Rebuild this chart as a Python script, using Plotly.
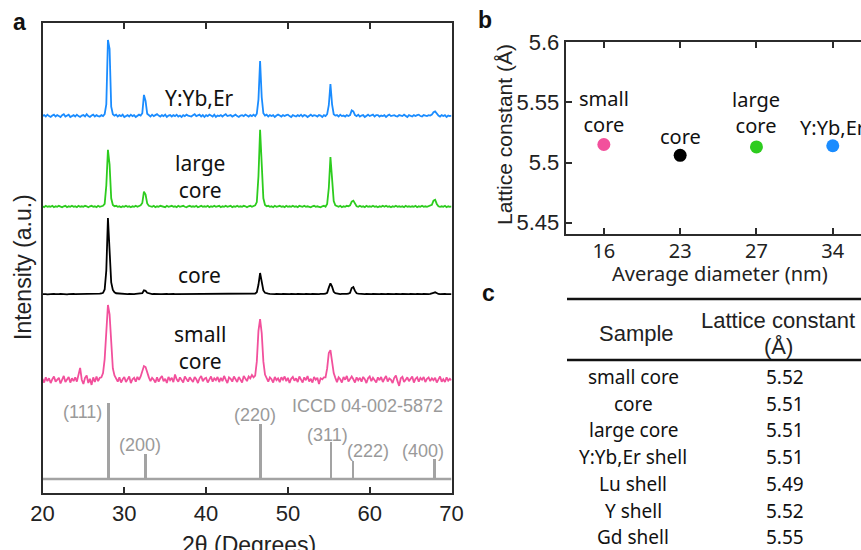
import plotly.graph_objects as go

# ---------------- data ----------------
# panel a: XRD patterns sampled every 0.2 degree from 20 to 70 (a.u., relative to each baseline)
two_theta = [round(20 + 0.2 * i, 1) for i in range(251)]

xrd_yyber = [
    0.0, 0.2, -0.1, 0.3, 0.0, -0.2, 0.1, 0.3, -0.1, 0.2,
    0.0, -0.2, 0.2, 0.4, -0.1, 0.1, 0.3, -0.2, 0.0, 0.2,
    -0.1, 0.3, 0.0, -0.2, 0.1, 0.2, -0.1, 0.4, 0.0, -0.2,
    0.1, 0.3, -0.1, 0.2, 0.0, -0.1, 0.2, 0.0, 0.4, 2.5,
    16.2, 14.3, 2.0, 0.4, 0.1, 0.3, -0.1, 0.2, 0.0, 0.3,
    -0.2, 0.1, 0.2, -0.1, 0.3, 0.0, 0.2, -0.2, 0.1, 0.3,
    0.1, 0.6, 4.5, 3.2, 0.5, 0.2, -0.1, 0.3, 0.0, 0.2,
    0.4, 0.1, -0.1, 0.2, 0.0, 0.3, -0.2, 0.1, 0.2, -0.1,
    0.2, 0.0, 0.3, -0.1, 0.1, -0.2, 0.2, 0.0, 0.3, 0.1,
    0.0, -0.1, 0.2, 0.4, 0.0, 0.1, 0.3, -0.1, 0.2, -0.2,
    0.2, 0.0, 0.3, 0.1, -0.1, 0.3, -0.2, 0.1, 0.0, 0.2,
    -0.1, 0.2, 0.4, 0.0, 0.1, 0.2, -0.1, 0.1, 0.3, 0.0,
    -0.2, 0.1, 0.2, 0.0, 0.3, 0.1, -0.1, 0.2, 0.0, 0.3,
    0.0, 0.5, 3.5, 11.7, 4.0, 0.6, 0.1, 0.3, -0.1, 0.2,
    0.0, 0.2, -0.2, 0.1, 0.3, 0.1, -0.1, 0.2, 0.0, 0.2,
    0.3, 0.0, -0.2, 0.2, 0.1, -0.1, 0.2, 0.0, 0.3, -0.1,
    0.2, 0.1, -0.2, 0.0, 0.3, 0.0, 0.2, 0.1, -0.1, 0.2,
    0.1, -0.2, 0.2, 0.0, 0.4, 2.3, 6.8, 2.5, 0.4, 0.1,
    0.2, -0.1, 0.3, 0.0, 0.1, -0.1, 0.2, 0.0, 0.2, 1.2,
    1.0, 0.2, 0.0, 0.3, -0.1, 0.1, 0.2, -0.2, 0.0, 0.3,
    0.0, 0.1, 0.3, -0.1, 0.2, 0.2, -0.1, 0.1, 0.0, 0.2,
    -0.2, 0.1, 0.3, 0.0, 0.1, 0.2, 0.0, -0.1, 0.2, 0.1,
    0.0, 0.3, 0.1, -0.2, 0.2, 0.1, -0.1, 0.2, 0.0, 0.2,
    0.3, 0.0, -0.1, 0.2, 0.1, 0.0, 0.2, 0.1, 0.3, 0.8,
    1.0, 0.5, 0.1, -0.1, 0.2, 0.0, 0.2, -0.2, 0.1, 0.0,
    0.1,
]

xrd_large_core = [
    0.1, -0.1, 0.2, 0.0, 0.1, 0.0, 0.2, -0.1, 0.1, 0.0,
    0.2, 0.0, -0.1, 0.1, 0.2, -0.1, 0.1, 0.0, 0.2, 0.0,
    0.1, -0.1, 0.2, 0.0, 0.1, 0.0, 0.2, 0.1, -0.1, 0.1,
    0.2, 0.0, 0.1, -0.1, 0.2, 0.0, 0.1, 0.2, 0.6, 4.5,
    12.1, 9.0, 1.8, 0.4, 0.1, 0.2, 0.0, 0.1, -0.1, 0.1,
    0.0, 0.2, 0.0, 0.1, -0.1, 0.1, 0.0, 0.2, 0.0, 0.2,
    0.3, 0.8, 3.2, 2.6, 0.7, 0.2, 0.1, 0.0, 0.2, -0.1,
    0.1, 0.0, 0.2, 0.1, 0.0, -0.1, 0.2, 0.0, 0.1, 0.2,
    0.0, 0.1, -0.1, 0.2, 0.0, 0.1, 0.2, 0.0, -0.1, 0.1,
    0.2, 0.0, 0.1, 0.0, 0.2, -0.1, 0.1, 0.2, 0.0, 0.1,
    0.0, 0.2, -0.1, 0.1, 0.0, 0.2, 0.0, 0.1, 0.2, -0.1,
    0.1, 0.0, 0.2, 0.0, 0.1, 0.2, -0.1, 0.1, 0.0, 0.2,
    0.0, 0.1, 0.0, 0.2, 0.1, -0.1, 0.1, 0.2, 0.0, 0.1,
    0.3, 1.0, 6.5, 16.4, 9.5, 1.8, 0.4, 0.1, 0.2, 0.0,
    0.1, -0.1, 0.2, 0.0, 0.1, 0.2, 0.0, 0.1, -0.1, 0.2,
    0.0, 0.1, 0.0, 0.2, 0.0, 0.1, -0.1, 0.2, 0.1, 0.0,
    0.2, 0.0, 0.1, 0.0, -0.1, 0.1, 0.2, 0.0, 0.1, 0.0,
    -0.1, 0.1, 0.2, 0.0, 0.6, 4.0, 10.6, 6.0, 1.2, 0.3,
    0.1, 0.0, 0.2, -0.1, 0.1, 0.0, 0.2, 0.1, 0.3, 1.1,
    1.3, 0.5, 0.1, 0.0, 0.2, 0.0, 0.1, -0.1, 0.2, 0.0,
    0.1, 0.0, 0.2, 0.0, 0.1, -0.1, 0.1, 0.0, 0.2, 0.0,
    0.2, 0.0, 0.1, -0.1, 0.1, 0.0, 0.2, 0.0, 0.1, 0.0,
    0.1, -0.1, 0.2, 0.0, 0.1, 0.0, 0.1, 0.0, 0.2, -0.1,
    0.1, 0.0, 0.2, 0.0, 0.1, 0.0, 0.1, 0.2, 0.4, 1.3,
    1.5, 0.6, 0.1, 0.0, 0.1, 0.0, 0.2, -0.1, 0.1, 0.0,
    0.1,
]

xrd_core = [
    0.0, 0.05, 0.0, -0.05, 0.0, 0.05, 0.0, 0.05, 0.0, -0.05,
    0.0, 0.05, 0.0, 0.05, 0.0, -0.05, 0.0, 0.05, 0.0, 0.05,
    0.0, 0.0, 0.05, -0.05, 0.0, 0.05, 0.0, 0.0, 0.05, 0.0,
    0.0, 0.05, 0.0, 0.05, 0.1, 0.1, 0.15, 0.3, 1.0, 5.0,
    16.2, 10.0, 2.5, 0.9, 0.4, 0.2, 0.15, 0.1, 0.05, 0.05,
    0.0, 0.05, 0.0, 0.05, 0.0, 0.05, 0.0, 0.05, 0.05, 0.1,
    0.1, 0.2, 0.8, 0.7, 0.3, 0.15, 0.05, 0.0, 0.05, 0.0,
    0.0, 0.05, 0.0, 0.0, 0.05, 0.0, 0.05, 0.0, 0.05, 0.0,
    0.05, 0.0, 0.0, 0.05, 0.0, 0.0, 0.05, 0.0, 0.0, 0.05,
    0.0, 0.05, 0.0, 0.05, 0.0, 0.05, 0.0, 0.05, 0.0, 0.0,
    0.05, 0.0, 0.0, 0.05, 0.0, 0.0, 0.05, 0.0, 0.05, 0.0,
    0.05, 0.0, 0.05, 0.0, 0.05, 0.0, 0.0, 0.05, 0.0, 0.05,
    0.0, 0.05, 0.0, 0.05, 0.0, 0.05, 0.0, 0.05, 0.1, 0.1,
    0.15, 0.4, 2.0, 4.5, 3.0, 0.8, 0.3, 0.15, 0.1, 0.05,
    0.0, 0.05, 0.0, 0.05, 0.0, 0.05, 0.0, 0.05, 0.0, 0.0,
    0.05, 0.0, 0.05, 0.0, 0.05, 0.0, 0.05, 0.0, 0.0, 0.05,
    0.0, 0.05, 0.0, 0.05, 0.0, 0.05, 0.0, 0.0, 0.05, 0.0,
    0.05, 0.0, 0.05, 0.1, 0.3, 1.4, 2.3, 1.6, 0.5, 0.2,
    0.1, 0.05, 0.0, 0.05, 0.0, 0.05, 0.05, 0.1, 0.3, 1.3,
    1.5, 0.7, 0.2, 0.1, 0.05, 0.0, 0.05, 0.0, 0.05, 0.0,
    0.05, 0.0, 0.05, 0.0, 0.0, 0.05, 0.0, 0.05, 0.0, 0.05,
    0.0, 0.05, 0.0, 0.0, 0.05, 0.0, 0.05, 0.0, 0.05, 0.0,
    0.05, 0.0, 0.0, 0.05, 0.0, 0.05, 0.0, 0.05, 0.0, 0.05,
    0.0, 0.05, 0.0, 0.05, 0.0, 0.05, 0.0, 0.05, 0.1, 0.3,
    0.4, 0.2, 0.05, 0.0, 0.05, 0.0, 0.05, 0.0, 0.05, 0.0,
    0.0,
]

xrd_small_core = [
    0.3, -0.5, 0.6, -0.2, 0.4, -0.6, 0.2, 0.8, -0.3, 0.1,
    0.5, -0.7, 0.3, 0.9, -0.4, 0.2, 0.7, -0.5, 0.4, -0.2,
    0.6, -0.3, 0.9, 2.6, 0.1, -0.8, 0.5, 1.0, -0.6, 0.3,
    -1.0, 0.6, -0.4, 0.8, -0.2, 0.5, 0.6, 1.5, 4.5, 11.0,
    16.0, 14.0, 7.0, 2.5, 1.0, 0.4, -0.3, 0.6, -0.5, 0.2,
    0.7, -0.4, 0.3, 0.8, -0.6, 0.2, 0.5, -0.3, 0.7, 0.1,
    0.8, 1.8, 3.0, 2.8, 1.5, 0.6, -0.2, 0.5, 0.1, -0.5,
    0.6, -0.3, 0.4, 0.9, -0.2, 0.3, -0.6, 0.7, 0.0, 0.5,
    -0.4, 1.2, 0.2, -0.3, 0.6, 0.1, -0.5, 0.8, 0.2, -0.3,
    0.6, 0.0, -0.4, 0.7, 0.2, -0.6, 0.4, 0.9, -0.2, 0.3,
    0.5, -0.5, 0.2, 0.8, -0.3, 0.4, 0.0, 0.7, -0.4, 0.5,
    -0.2, 0.9, 0.1, -0.6, 0.6, 0.3, -0.3, 0.8, 0.2, -0.4,
    0.7, 0.1, -0.5, 0.9, 0.3, -0.2, 0.8, 0.4, 1.1, 0.6,
    1.0, 4.0, 10.5, 13.0, 10.0, 4.0, 1.2, 0.5, -0.3, 0.6,
    0.2, -0.5, 0.7, 0.0, 0.4, -0.4, 0.6, 0.1, 0.8, -0.2,
    0.5, -0.6, 0.3, 0.7, -0.1, 0.4, -0.4, 0.8, 0.2, -0.5,
    0.6, 0.0, 0.9, -0.3, 0.3, -0.5, 0.7, 0.1, 0.5, -0.8,
    0.4, 0.2, 0.6, 0.6, 2.5, 5.8, 6.4, 4.0, 1.5, 0.5,
    -0.4, 0.6, 0.2, -0.5, 0.7, 0.1, 0.9, -0.3, 0.4, 0.8,
    0.2, -0.5, 0.6, 0.0, 0.5, -0.3, 0.7, 0.2, -0.6, 0.4,
    0.8, -0.2, 0.5, 0.1, -0.5, 0.6, 0.0, 0.7, -0.4, 0.3,
    0.9, -0.3, 0.4, 0.1, -0.6, 0.5, 1.0, -0.2, -1.2, 0.4,
    0.7, -0.4, 0.2, 0.6, -0.2, 0.4, 0.8, -0.5, 0.3, 0.6,
    -0.3, 0.5, 0.1, 0.7, -0.4, 0.3, 0.6, -0.2, 0.4, 0.0,
    0.5, -0.5, 0.3, 0.8, -0.3, 0.2, -0.4, 0.6, -0.1, 0.3,
    0.0,
]

# stacking baselines of the patterns (a.u.)
offset_yyber = 80.2
offset_large_core = 60.9
offset_core = 42.3
offset_small_core = 24.0
offset_ref = 3.0

# reference card ICCD 04-002-5872
ref_two_theta = [28.05, 32.5, 46.6, 55.2, 57.9, 67.9]
ref_intensity = [16.2, 5.3, 11.7, 7.9, 3.8, 4.3]
ref_hkl = ["(111)", "(200)", "(220)", "(311)", "(222)", "(400)"]
ref_label_x = [24.83, 31.92, 45.98, 54.78, 59.79, 66.52]
ref_label_y = [17.2, 10.2, 16.6, 12.3, 8.9, 8.9]

# panel b
diameters = ["16", "23", "27", "34"]
lattice_b = [5.515, 5.506, 5.513, 5.514]
labels_b = ["small<br>core", "core", "large<br>core", "Y:Yb,Er"]
label_shift_b = [33, 19, 34, 18]

# panel c
table_samples = ["small core", "core", "large core", "Y:Yb,Er shell",
                 "Lu shell", "Y shell", "Gd shell"]
table_values = ["5.52", "5.51", "5.51", "5.51", "5.49", "5.52", "5.55"]

# colours
c_blue = "#1a8cff"
c_green = "#2dcc1e"
c_black = "#000000"
c_pink = "#f2509c"
c_gray = "#a3a3a3"
c_axis = "#2b2b2b"

# ---------------- layout helpers ----------------
W, H = 861, 550
def px(x):
    return x / W
def py(y):
    return 1 - y / H

HELV = "Liberation Sans, Arial, sans-serif"
MYR = "Noto Sans, Open Sans, sans-serif"

fig = go.Figure()

# panel a traces
def add_pattern(vals, off, color, width=1.8):
    fig.add_trace(go.Scatter(
        x=two_theta, y=[v + off for v in vals], mode="lines",
        line=dict(color=color, width=width), xaxis="x", yaxis="y",
        hoverinfo="skip", showlegend=False))

fig.add_trace(go.Bar(
    x=ref_two_theta, y=ref_intensity, base=offset_ref, width=0.34,
    marker=dict(color=c_gray, line=dict(width=0)), xaxis="x", yaxis="y",
    showlegend=False, hoverinfo="skip"))
fig.add_trace(go.Scatter(
    x=[two_theta[0], two_theta[-1]], y=[offset_ref, offset_ref], mode="lines",
    line=dict(color=c_gray, width=2.5), xaxis="x", yaxis="y",
    showlegend=False, hoverinfo="skip"))

add_pattern(xrd_small_core, offset_small_core, c_pink, 1.8)
add_pattern(xrd_core, offset_core, c_black, 1.8)
add_pattern(xrd_large_core, offset_large_core, c_green, 1.8)
add_pattern(xrd_yyber, offset_yyber, c_blue, 1.8)

# panel b
cat_pos = list(range(len(diameters)))
fig.add_trace(go.Scatter(
    x=cat_pos, y=lattice_b, mode="markers",
    marker=dict(size=13, color=[c_pink, c_black, c_green, c_blue]),
    xaxis="x2", yaxis="y2", showlegend=False, hoverinfo="skip"))

annotations = []

def ann_px(text, x, y, family, size, color="#222", angle=0, xanchor="center", yanchor="middle"):
    annotations.append(dict(x=px(x), y=py(y), xref="paper", yref="paper", text=text,
                            showarrow=False, textangle=angle, xanchor=xanchor, yanchor=yanchor,
                            font=dict(family=family, size=size, color=color)))

# panel a labels
lab_x = 39.25
for txt, yv in [("Y:Yb,Er", offset_yyber + 3.8), ("large<br>core", offset_large_core + 6.4),
                ("core", offset_core + 4.1), ("small<br>core", offset_small_core + 7.0)]:
    annotations.append(dict(x=lab_x, y=yv, xref="x", yref="y", text=txt, showarrow=False,
                            xanchor="center", yanchor="middle",
                            font=dict(family=MYR, size=21, color="#111")))
for t, xv, yv in zip(ref_hkl, ref_label_x, ref_label_y):
    annotations.append(dict(x=xv, y=yv, xref="x", yref="y", text=t, showarrow=False,
                            xanchor="center", yanchor="middle",
                            font=dict(family=HELV, size=18, color="#9a9a9a")))
annotations.append(dict(x=69.2, y=18.5, xref="x", yref="y", text="ICCD 04-002-5872",
                        showarrow=False, xanchor="right", yanchor="middle",
                        font=dict(family=HELV, size=18, color="#9a9a9a")))

# panel a axis titles
ann_px("Intensity (a.u.)", 23, 267, HELV, 23, angle=-90)
ann_px("2θ (Degrees)", 249, 530, HELV, 23, yanchor="top")

# panel b labels
for d, v, t, s in zip(cat_pos, lattice_b, labels_b, label_shift_b):
    annotations.append(dict(x=d, y=v, xref="x2", yref="y2", text=t, showarrow=False,
                            xanchor="center", yanchor="middle",
                            yshift=s, font=dict(family=MYR, size=20, color="#111")))
ann_px("Lattice constant (Å)", 504, 134, HELV, 21, angle=-90)
ann_px("Average diameter (nm)", 720, 273, MYR, 20)

# panel letters
for t, x, y in [("a", 19, 22), ("b", 485, 20), ("c", 488, 293)]:
    ann_px("<b>%s</b>" % t, x, y, HELV, 23, color="#111")

# panel c table
ann_px("Sample", 636, 333, HELV, 22)
ann_px("Lattice constant", 778, 320, HELV, 22)
ann_px("(Å)", 778, 346, HELV, 22)
row0, row_dy = 377, 26.7
for i, (s, v) in enumerate(zip(table_samples, table_values)):
    yy = row0 + i * row_dy
    ann_px(s, 633, yy, MYR, 19, color="#111")
    ann_px(v, 785, yy, MYR, 19, color="#111")

shapes = [
    dict(type="line", xref="paper", yref="paper", x0=px(567), x1=1.0, y0=py(299), y1=py(299),
         line=dict(color="#111", width=2.5)),
    dict(type="line", xref="paper", yref="paper", x0=px(567), x1=1.0, y0=py(360), y1=py(360),
         line=dict(color="#111", width=2.5)),
]

fig.update_layout(
    width=W, height=H, margin=dict(l=0, r=0, t=0, b=0, autoexpand=False),
    paper_bgcolor="white", plot_bgcolor="white",
    showlegend=False, bargap=0,
    annotations=annotations, shapes=shapes,
    xaxis=dict(domain=[px(42.5), px(451.5)], anchor="y", range=[20, 70], dtick=10,
               tick0=20, showline=True, linecolor=c_axis, linewidth=2, mirror="ticks",
               ticks="inside", ticklen=6, tickwidth=2, tickcolor=c_axis,
               showgrid=False, zeroline=False,
               tickfont=dict(family=HELV, size=22, color="#222")),
    yaxis=dict(domain=[py(493), py(23)], anchor="x", range=[0, 100],
               showline=True, linecolor=c_axis, linewidth=2, mirror=True,
               ticks="", showticklabels=False, showgrid=False, zeroline=False),
    xaxis2=dict(domain=[px(565.7), 1.0], anchor="y2", range=[-0.5, 3.37],
                tickvals=cat_pos, ticktext=diameters,
                showline=True, linecolor=c_axis, linewidth=2, mirror="ticks",
                ticks="inside", ticklen=6, tickwidth=2, tickcolor=c_axis,
                ticklabelstandoff=-2,
                showgrid=False, zeroline=False,
                tickfont=dict(family=MYR, size=20, color="#222")),
    yaxis2=dict(domain=[py(234), py(42.3)], anchor="x2", range=[5.4406, 5.6],
                tickvals=[5.45, 5.5, 5.55, 5.6], ticktext=["5.45", "5.5", "5.55", "5.6"],
                showline=True, linecolor=c_axis, linewidth=2, mirror=False,
                ticks="inside", ticklen=6, tickwidth=2, tickcolor=c_axis,
                showgrid=False, zeroline=False,
                tickfont=dict(family=HELV, size=22, color="#222")),
)

# place the figure at the very top-left of the page (no default body margin)
fig.write_html("out.html", config={"displayModeBar": False},
               post_script="document.body.style.margin='0';")
